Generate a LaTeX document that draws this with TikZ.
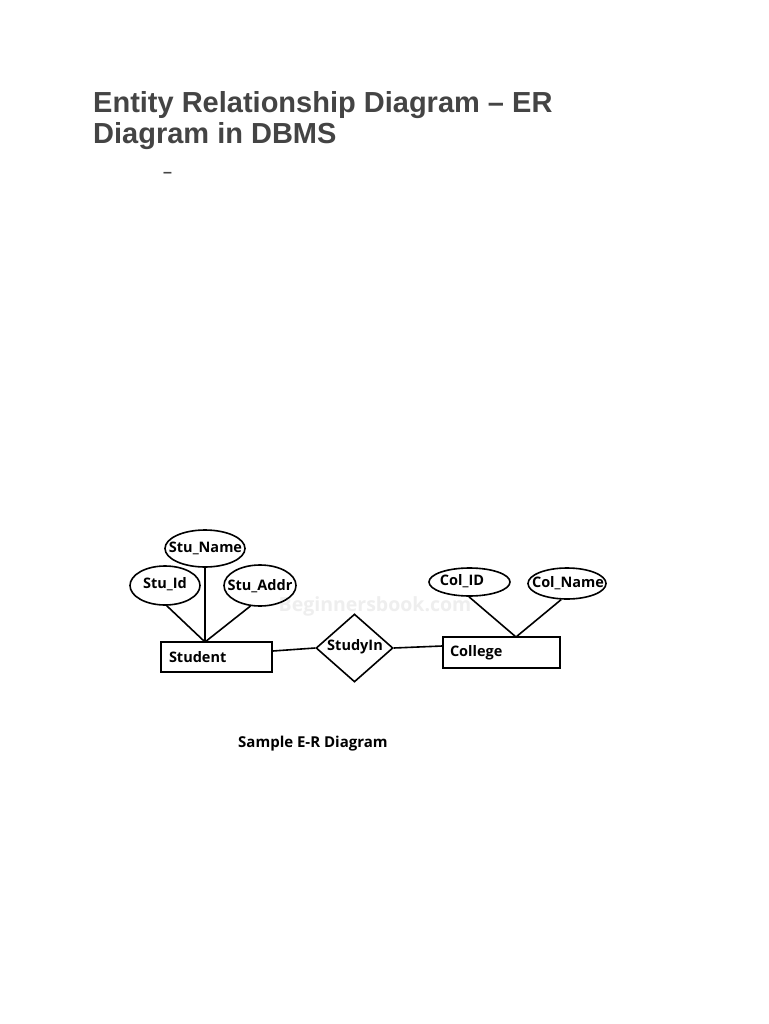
\documentclass[tikz,border=0pt]{standalone}
\usepackage{fontspec}
\setmainfont{Liberation Sans}
\newfontfamily\ui{Open Sans}
\usetikzlibrary{shapes.geometric}
\definecolor{titlegray}{HTML}{444444}
\definecolor{wmgray}{HTML}{EEEEEE}
\tikzset{
  lblfont/.style={font=\ui\bfseries\fontsize{14.5}{16}\selectfont},
  attr/.style={draw, line width=1.6pt, ellipse, inner sep=0pt},
  attrtext/.style={lblfont, inner sep=0pt},
  entity/.style={draw, line width=1.6pt, rectangle, inner sep=0pt, lblfont},
  rel/.style={draw, line width=1.6pt, diamond, inner sep=0pt},
  conn/.style={line width=1.6pt},
  title/.style={anchor=base west, inner sep=0pt, text=titlegray, font=\bfseries\fontsize{29}{33}\selectfont}
}
\begin{document}
\begin{tikzpicture}[x=1pt,y=-1pt]
\useasboundingbox[fill=white] (0,0) rectangle (768,1024);
\node[title] (t1) at (93,113) {Entity Relationship Diagram – ER};
\node[title] (t2) at (93,144) {Diagram in DBMS};
\node[anchor=base west, inner sep=0pt, text=titlegray, font=\bfseries\fontsize{16}{18}\selectfont] (dash) at (163,178) {–};
\node[font=\ui\bfseries\fontsize{19.5}{21}\selectfont, text=wmgray, inner sep=0pt] (wm) at (375,606) {Beginnersbook.com};
% attributes
\node[attr, minimum width=80pt, minimum height=37pt] (stuname) at (205,548.5) {};
\node[attrtext] (stunamet) at (205.5,548) {Stu\_Name};
\node[attr, minimum width=70pt, minimum height=39pt] (stuid) at (165,585.5) {};
\node[attrtext] (stuidt) at (165,584.5) {Stu\_Id};
\node[attr, minimum width=72pt, minimum height=41pt] (stuaddr) at (260,585.5) {};
\node[attrtext] (stuaddrt) at (260,586) {Stu\_Addr};
\node[attr, minimum width=81pt, minimum height=28pt] (colid) at (469.5,582) {};
\node[attrtext] (colidt) at (462,581) {Col\_ID};
\node[attr, minimum width=78pt, minimum height=31pt] (colname) at (567,583.5) {};
\node[attrtext] (colnamet) at (568,583) {Col\_Name};
% entities
\node[entity, minimum width=111pt, minimum height=30pt, text width=95pt, align=left] (student) at (216.5,657) {Student};
\node[entity, minimum width=117pt, minimum height=31pt, text width=103pt, align=left] (college) at (501.5,652.5) {College};
% relationship
\node[rel, minimum width=77pt, minimum height=68pt] (studyin) at (354.5,648) {};
\node[attrtext] (studyint) at (355,646.5) {StudyIn};
% junctions
\coordinate (sj) at (205,642);
\coordinate (cj) at (516,637);
\draw[conn] (stuid.-85) -- (sj);
\draw[conn] (stuname) -- (sj);
\draw[conn] (stuaddr.-115) -- (sj);
\draw[conn] (colid.-92) -- (cj);
\draw[conn] (colname.-110) -- (cj);
\draw[conn] (student.east |- 0,651) -- (studyin.west);
\draw[conn] (studyin.east) -- (college.west |- 0,646);
\node[anchor=base west, inner sep=0pt, font=\ui\bfseries\fontsize{15}{17}\selectfont] (caption) at (238,747) {Sample E-R Diagram};
\end{tikzpicture}
\end{document}
